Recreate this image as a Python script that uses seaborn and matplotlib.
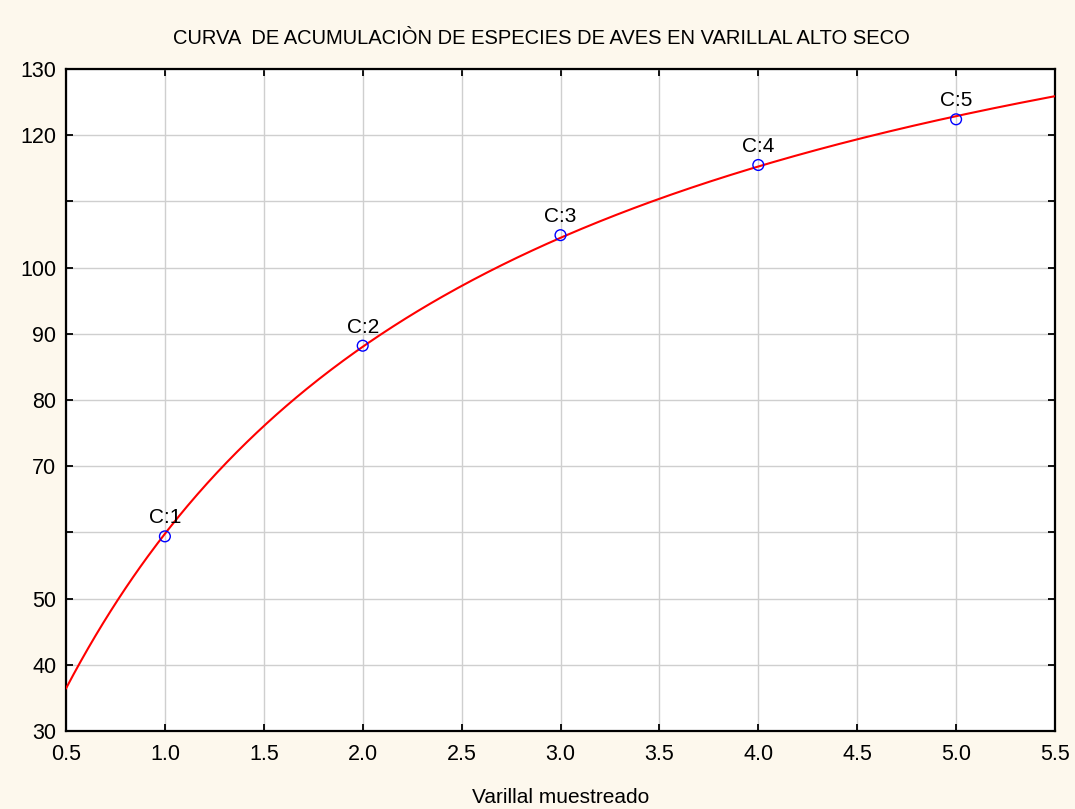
import numpy as np
import pandas as pd
import matplotlib
matplotlib.use("Agg")
import matplotlib.pyplot as plt
import seaborn as sns

# ---- data ----
muestreo = [1, 2, 3, 4, 5]
especies = [59.4, 88.2, 104.9, 115.5, 122.4]
etiquetas = ["C:1", "C:2", "C:3", "C:4", "C:5"]
x_ticks = [0.5, 1.0, 1.5, 2.0, 2.5, 3.0, 3.5, 4.0, 4.5, 5.0, 5.5]
y_ticks = [30, 40, 50, 60, 70, 80, 90, 100, 110, 120, 130]
y_ticklabels = ["30", "40", "50", "", "70", "80", "90", "100", "", "120", "130"]
titulo = "CURVA  DE ACUMULACIÒN DE ESPECIES DE AVES EN VARILLAL ALTO SECO"
x_titulo = "Varillal muestreado"

df = pd.DataFrame({"x": muestreo, "y": especies, "lab": etiquetas})

# Clench-type fit (S = a x / (1 + b x)) to the points, by least squares
xa = np.asarray(muestreo, float)
ya = np.asarray(especies, float)
best = None
for b in np.linspace(0.01, 3.0, 6000):
    f = xa / (1 + b * xa)
    a = (ya @ f) / (f @ f)
    sse = np.sum((ya - a * f) ** 2)
    if best is None or sse < best[0]:
        best = (sse, a, b)
_, A, B = best
xs = np.linspace(0.5, 5.5, 400)
fit = pd.DataFrame({"x": xs, "y": A * xs / (1 + B * xs)})

sns.set_theme(style="whitegrid")
plt.rcParams["font.family"] = ["Liberation Sans", "DejaVu Sans"]

fig = plt.figure(figsize=(10.75, 8.09), dpi=100, facecolor="#fdf8ed")
ax = fig.add_axes([66 / 1075, 1 - 731 / 809, (1055 - 66) / 1075, (731 - 69) / 809])
ax.set_facecolor("white")

sns.lineplot(data=fit, x="x", y="y", ax=ax, color="red", linewidth=1.5, zorder=3)
sns.scatterplot(data=df, x="x", y="y", ax=ax, marker="o", s=60,
                facecolor="none", edgecolor="blue", linewidth=1.0, zorder=4)

for xi, yi, lab in zip(muestreo, especies, etiquetas):
    ax.annotate(lab, (xi, yi), xytext=(0, 9.5), textcoords="offset points",
                ha="center", va="baseline", fontsize=15, color="black")

ax.set_xlim(0.5, 5.5)
ax.set_ylim(30, 130)
ax.set_xticks(x_ticks)
ax.set_xticklabels([f"{v:.1f}" for v in x_ticks])
ax.set_yticks(y_ticks)
ax.set_yticklabels(y_ticklabels)

ax.grid(True, color="#cfcfcf", linewidth=1.0)
for s in ax.spines.values():
    s.set_color("black")
    s.set_linewidth(1.6)
    s.set_visible(True)

ax.tick_params(axis="both", direction="in", length=5, width=1.3, color="black",
               labelsize=15.5, labelcolor="black", top=True, right=True,
               bottom=True, left=True, labeltop=False, labelright=False)
ax.tick_params(axis="x", pad=9)
ax.tick_params(axis="y", pad=7)

ax.set_xlabel(x_titulo, fontsize=15, labelpad=17, color="black")
ax.set_ylabel("")
fig.text(541.5 / 1075, 1 - 38 / 809, titulo, ha="center", va="center",
         fontsize=14.5, color="black")

fig.savefig("out.png", dpi=100, facecolor=fig.get_facecolor())
